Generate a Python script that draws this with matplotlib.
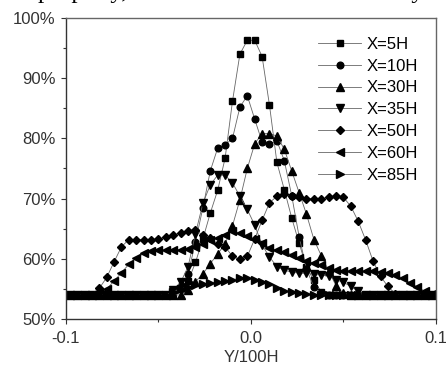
import numpy as np
import matplotlib
matplotlib.use("Agg")
import matplotlib.pyplot as plt
from matplotlib.ticker import MultipleLocator, FuncFormatter

plt.rcParams["font.family"] = ["Liberation Sans", "DejaVu Sans"]

# shared sampling positions across the wake (Y/100H)
y_pos = np.linspace(-0.098, 0.098, 50)

# values in percent
x5h = [54] * 14 + [54.3, 55.0, 56.3, 59.4, 63.3, 67.6, 71.4, 76.7, 86.2, 94.0, 96.3,
                   96.3, 93.6, 85.5, 76.0, 71.5, 66.8, 62.6, 58.6, 56.4, 54.5] + [54] * 15
x10h = [54] * 14 + [54.5, 55.5, 57.5, 62.8, 68.5, 74.6, 78.4, 78.9, 80.0, 85.2, 87.1,
                    83.2, 79.4, 79.1, 79.6, 76.3, 70.5, 63.7, 58.3, 55.3, 54.3] + [54] * 15
x30h = [54] * 16 + [54.8, 56.2, 57.5, 59.2, 60.8, 62.5, 65.5, 69.8, 75.0, 79.1, 80.8,
                    80.8, 80.4, 78.2, 74.6, 71.0, 67.4, 63.2, 60.5, 58.0, 55.5, 54.3] + [54] * 12
x35h = [54] * 14 + [54.9, 56.1, 58.7, 64.2, 69.2, 72.3, 73.9, 73.9, 72.6, 70.4, 68.2,
                    65.6, 62.3, 60.3, 58.7, 58.1, 57.8, 57.6, 57.6, 57.4, 57.3, 57.1,
                    56.5, 56.1, 55.4, 54.6] + [54] * 10
x50h = [54] * 4 + [55.1, 56.9, 59.5, 62.0, 63.2, 63.2, 63.2, 63.2, 63.3, 63.6, 64.0,
                   64.3, 64.6, 64.8, 63.9, 63.4, 62.5, 62.0, 60.4, 59.9, 60.4, 63.3,
                   66.4, 69.3, 70.4, 70.7, 70.4, 70.2, 70.0, 70.0, 70.0, 70.2, 70.4,
                   70.2, 68.7, 66.2, 63.1, 59.6, 57.1, 55.4, 54.2] + [54] * 5
x60h = [54] * 4 + [54.3, 55.0, 56.3, 57.7, 59.1, 60.1, 60.9, 61.3, 61.4, 61.4, 61.4,
                   61.5, 61.6, 62.0, 62.4, 63.1, 63.5, 63.9, 64.6, 64.3, 63.8, 63.3,
                   62.6, 61.8, 61.4, 61.1, 60.7, 60.1, 59.6, 59.3, 58.9, 58.5, 58.2,
                   57.9, 57.9, 57.9, 57.9, 57.9, 57.8, 57.6, 57.3, 56.8, 56.0, 55.3,
                   54.6, 54.2]
x85h = [54] * 14 + [54.5, 55.0, 55.3, 55.6, 55.8, 56.0, 56.2, 56.3, 56.5, 56.8, 56.8,
                    56.5, 56.2, 55.8, 55.1, 54.7, 54.5, 54.3, 54.2] + [54] * 17

series = [
    ("X=5H", x5h, "s", 4.8),
    ("X=10H", x10h, "o", 4.8),
    ("X=30H", x30h, "^", 5.2),
    ("X=35H", x35h, "v", 5.2),
    ("X=50H", x50h, "D", 4.2),
    ("X=60H", x60h, "<", 5.2),
    ("X=85H", x85h, ">", 5.2),
]

fig = plt.figure(figsize=(4.46, 3.76), dpi=100)
ax = fig.add_axes([66 / 446, 57 / 376, 370 / 446, 301 / 376])

for label, vals, mk, ms in series:
    ax.plot(y_pos, vals, color="#666666", lw=0.6, marker=mk, ms=ms,
            mfc="black", mec="black", label=label)

ax.set_xlim(-0.1, 0.1)
ax.set_ylim(50, 100)
ax.xaxis.set_major_locator(MultipleLocator(0.1))
ax.xaxis.set_minor_locator(MultipleLocator(0.05))
ax.yaxis.set_major_locator(MultipleLocator(10))
ax.yaxis.set_minor_locator(MultipleLocator(5))
ax.xaxis.set_major_formatter(FuncFormatter(lambda v, p: f"{v:.1f}"))
ax.yaxis.set_major_formatter(FuncFormatter(lambda v, p: f"{v:.0f}%"))
ax.tick_params(which="both", direction="out", top=False, right=False,
               colors="#333333", labelsize=12, width=0.8)
ax.tick_params(which="major", length=3.5)
ax.tick_params(which="minor", length=2.5)
ax.tick_params(axis="y", pad=4)
ax.tick_params(axis="x", pad=5)

for side in ("left", "bottom"):
    ax.spines[side].set_color("#333333")
    ax.spines[side].set_linewidth(1.0)
for side in ("top", "right"):
    ax.spines[side].set_color("#666666")
    ax.spines[side].set_linewidth(1.0)

ax.set_xlabel("Y/100H", fontsize=12, color="#333333")
ax.xaxis.set_label_coords(0.5, -0.103)
ax.xaxis.label.set_va("top")

ax.legend(loc="upper right", bbox_to_anchor=(0.969, 0.96), frameon=False,
          fontsize=12, handlelength=2.6, handletextpad=0.3, labelspacing=0.41,
          borderaxespad=0)

# clipped line of page text above the chart (only descenders show)
fig.text(0.085, 1 + 2 / 376, "property, which seems to be caused by the",
         family="Liberation Serif", fontsize=18, va="baseline", color="black")

fig.savefig("out.png", dpi=100)
